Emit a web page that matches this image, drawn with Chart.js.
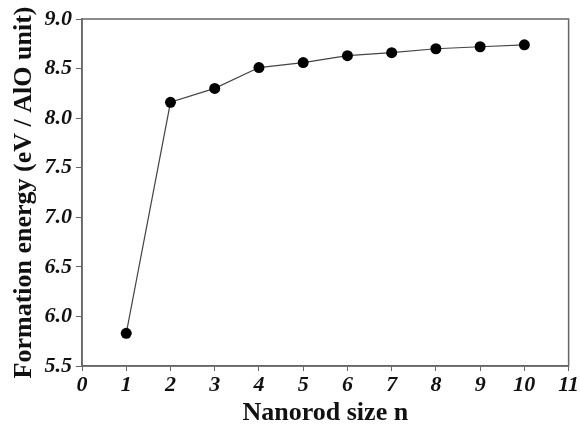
<!DOCTYPE html>
<html>
<head>
<meta charset="utf-8">
<script src="https://cdn.jsdelivr.net/npm/chart.js@4"></script>
<style>
html,body{margin:0;padding:0;background:#fff;}
#wrap{width:580px;height:429px;}
</style>
</head>
<body>
<div id="wrap"><canvas id="c" width="580" height="429"></canvas></div>
<script>
const sizes = [1, 2, 3, 4, 5, 6, 7, 8, 9, 10];
const energies = [5.83, 8.16, 8.30, 8.51, 8.56, 8.63, 8.66, 8.70, 8.72, 8.74];
const xTitle = 'Nanorod size n';
const yTitle = 'Formation energy (eV / AlO unit)';

const frame = {
  id: 'frame',
  afterDatasetsDraw(chart) {
    const a = chart.chartArea, ctx = chart.ctx;
    ctx.save();
    ctx.strokeStyle = '#666';
    ctx.lineWidth = 1.5;
    ctx.strokeRect(a.left, a.top, a.right - a.left, a.bottom - a.top);
    ctx.restore();
  }
};

const tickFont = {family: '"Liberation Serif", "DejaVu Serif", serif', size: 22, weight: 'bold', style: 'italic'};
const titleFont = {family: '"Liberation Serif", "DejaVu Serif", serif', size: 26, weight: 'bold'};

new Chart(document.getElementById('c'), {
  type: 'scatter',
  data: {
    datasets: [{
      data: sizes.map((s, i) => ({x: s, y: energies[i]})),
      showLine: true,
      borderColor: '#444',
      borderWidth: 1.2,
      pointRadius: 5.5,
      pointBackgroundColor: '#000',
      pointBorderColor: '#000',
      pointBorderWidth: 0
    }]
  },
  options: {
    responsive: false,
    animation: false,
    devicePixelRatio: 1,
    layout: {padding: {top: 19, right: 8, left: 0, bottom: 0}},
    plugins: {legend: {display: false}, tooltip: {enabled: false}},
    scales: {
      x: {
        type: 'linear', min: 0, max: 11,
        afterFit(s) { s.height = 63; },
        ticks: {stepSize: 1, color: '#111', font: tickFont, padding: 1, maxRotation: 0, autoSkip: false},
        grid: {drawOnChartArea: false, tickLength: 5, color: '#666'},
        border: {color: '#666', width: 1.5},
        title: {display: true, text: xTitle, color: '#111', font: titleFont, padding: {top: 0, bottom: 0}}
      },
      y: {
        type: 'linear', min: 5.5, max: 9.0,
        afterFit(s) { s.width = 82; },
        ticks: {stepSize: 0.5, color: '#111', font: tickFont, padding: 4, callback: v => v.toFixed(1)},
        grid: {drawOnChartArea: false, tickLength: 6, color: '#666'},
        border: {color: '#666', width: 1.5},
        title: {display: true, text: yTitle, color: '#111', font: titleFont, padding: {top: 9, bottom: 0}}
      }
    }
  },
  plugins: [frame]
});
</script>
</body>
</html>
